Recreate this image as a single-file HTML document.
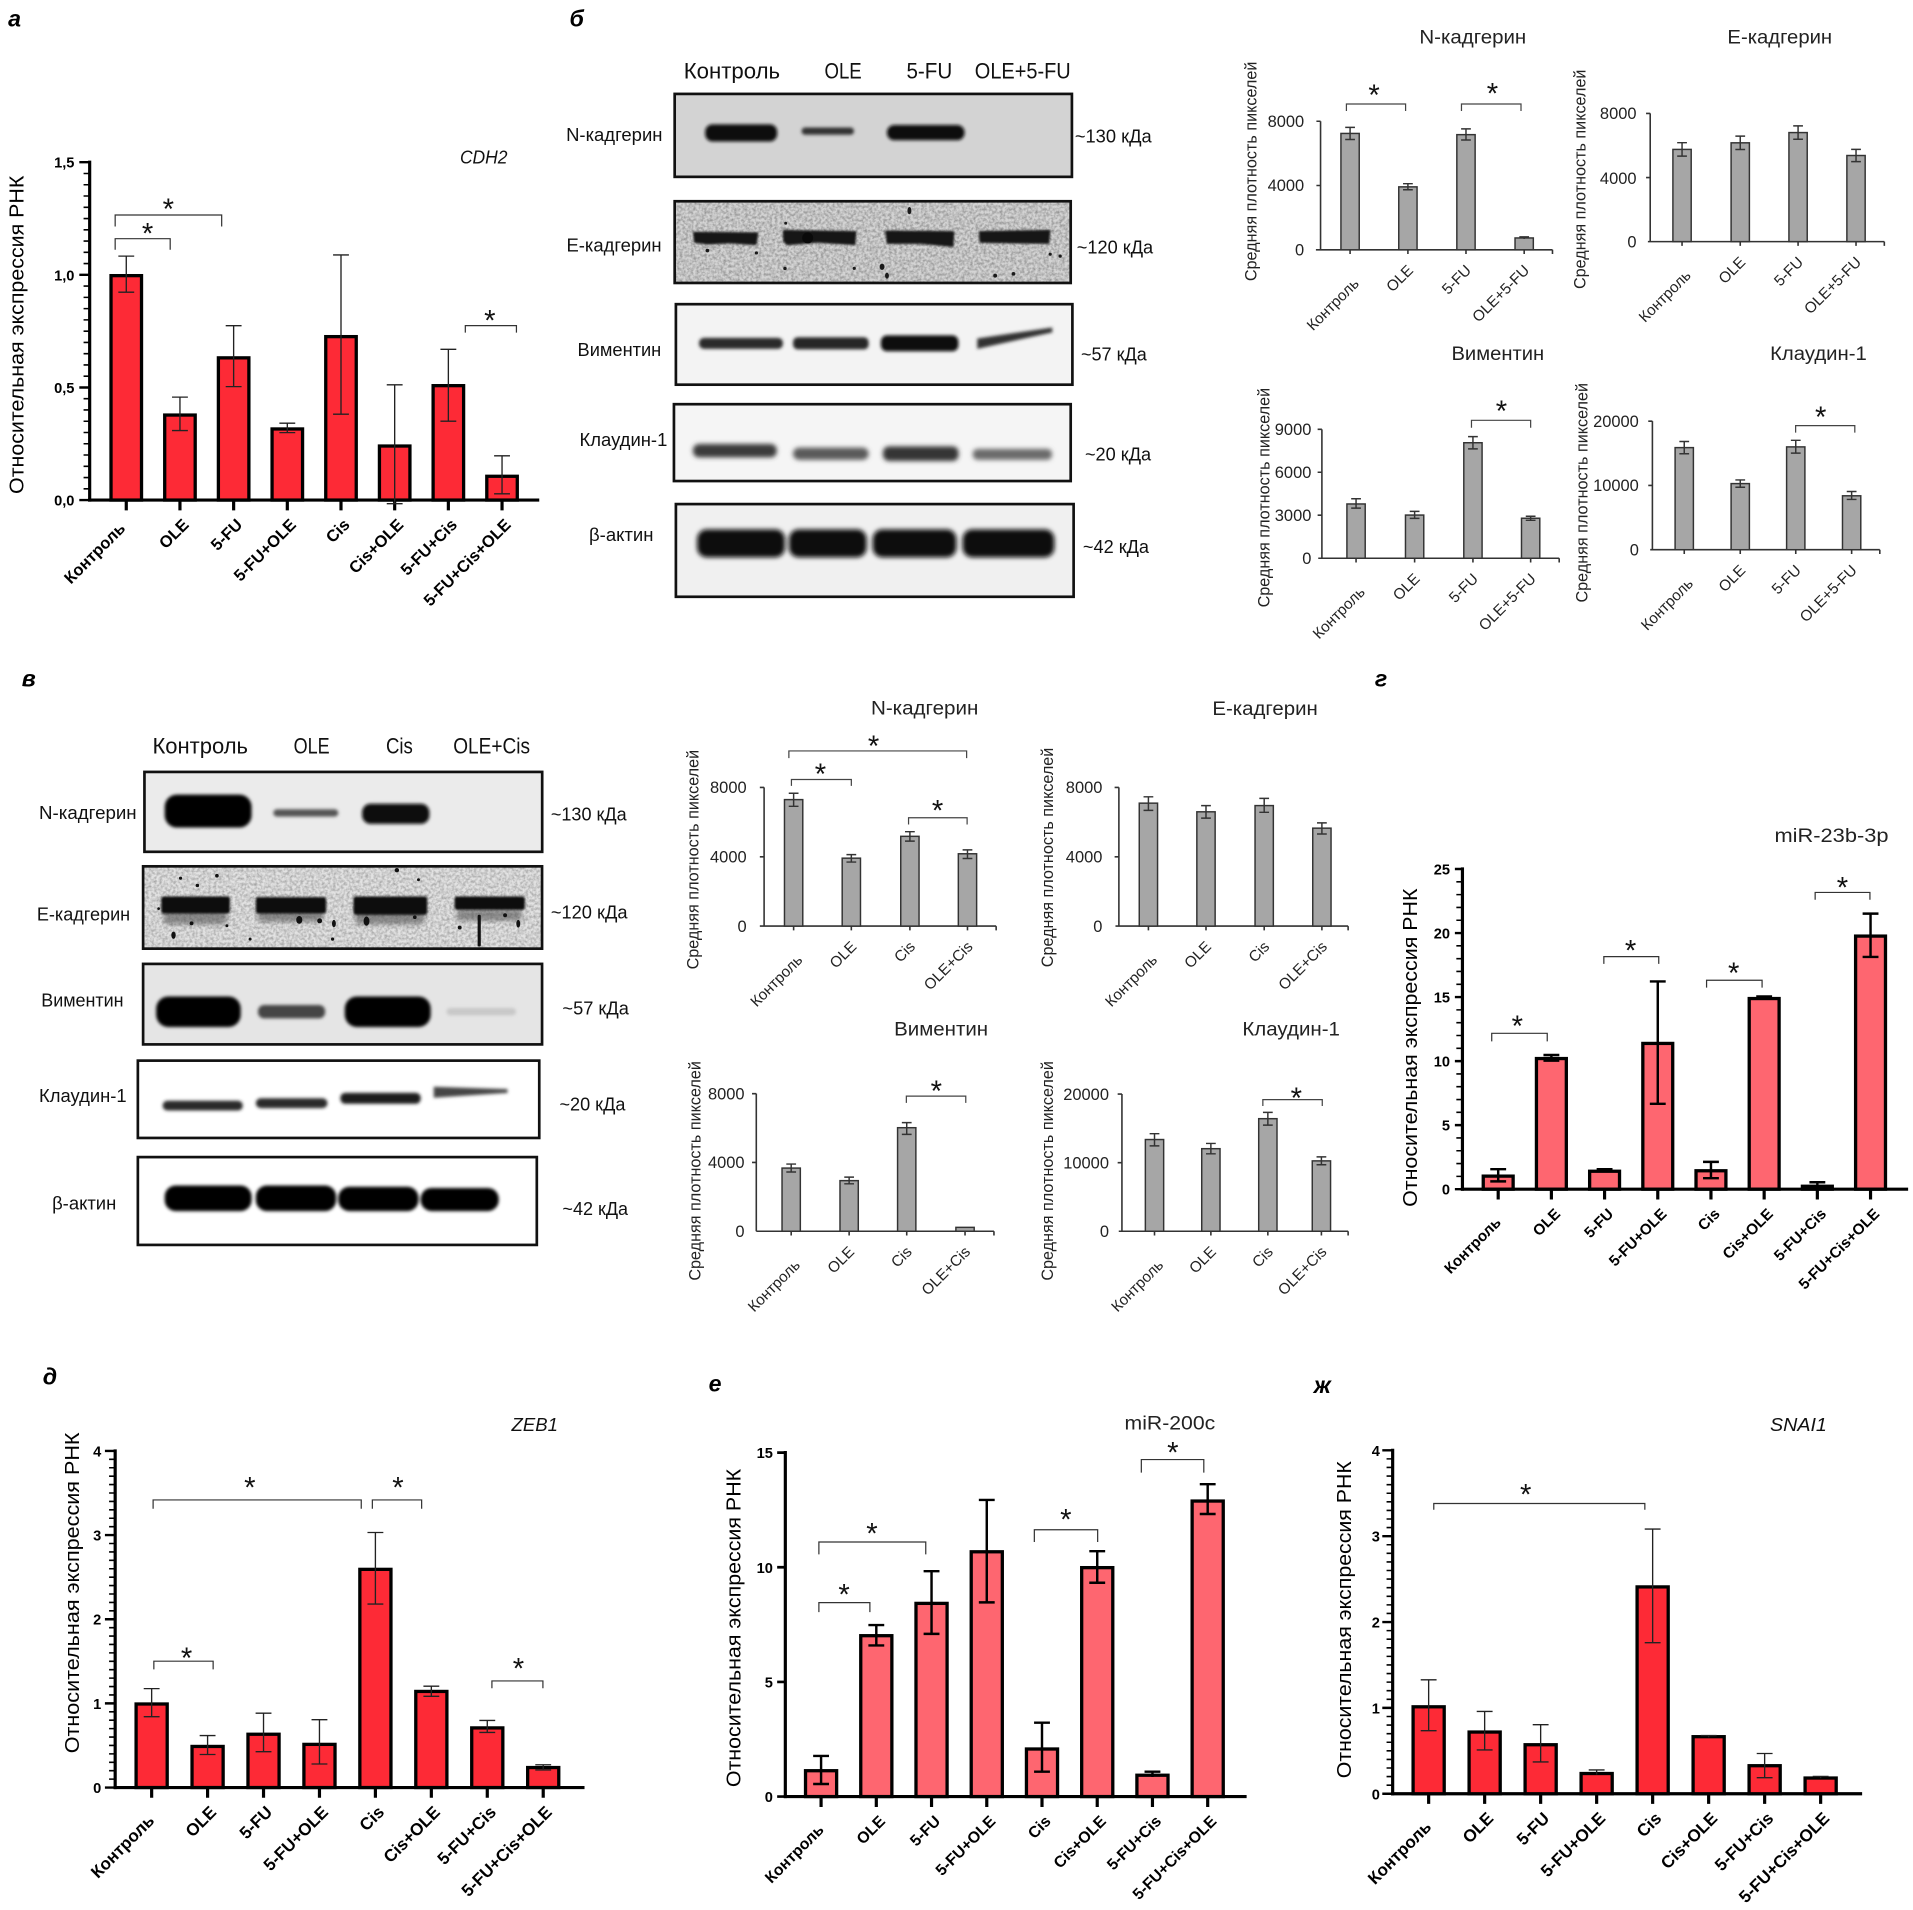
<!DOCTYPE html>
<html><head><meta charset="utf-8">
<style>
html,body{margin:0;padding:0;background:#fff;}
svg{display:block;}
text{font-family:"Liberation Sans",Arial,sans-serif;}
.gb{font-weight:bold;font-size:13.5px;text-anchor:end;fill:#000}
.ex{font-size:12.5px;text-anchor:end;fill:#222}
.yl{font-size:17px;text-anchor:middle;fill:#000}
.eyl{font-size:13.5px;text-anchor:middle;fill:#222}
.tk{font-weight:bold;font-size:12px;text-anchor:end;fill:#000}
.etk{font-size:13.5px;text-anchor:end;fill:#222}
.ttl{font-size:16px;text-anchor:middle;fill:#222}
.st{font-size:24px;text-anchor:middle;fill:#111}
.pl{font-weight:bold;font-style:italic;font-size:19px;fill:#000}
.bl{font-size:15.5px;fill:#111}
.hd{font-size:18px;fill:#111}
.gn{font-style:italic;font-size:15px;text-anchor:middle;fill:#111}
</style></head><body>
<svg width="1913" height="1910" viewBox="0 0 1568 1566" preserveAspectRatio="none" xmlns="http://www.w3.org/2000/svg">
<defs>
<filter id="bl1" x="-20%" y="-80%" width="140%" height="260%"><feGaussianBlur stdDeviation="1.3"/></filter>
<filter id="bl2" x="-20%" y="-80%" width="140%" height="260%"><feGaussianBlur stdDeviation="2"/></filter>
<filter id="bl07" x="-20%" y="-80%" width="140%" height="260%"><feGaussianBlur stdDeviation="0.8"/></filter>
<filter id="nz" x="0" y="0" width="1" height="1">
<feTurbulence type="fractalNoise" baseFrequency="0.45" numOctaves="2" seed="5"/>
<feColorMatrix type="matrix" values="0 0 0 0 0  0 0 0 0 0  0 0 0 0 0  1.8 0 0 0 -0.6"/>
</filter>
</defs>
<rect x="0" y="0" width="1568" height="1566" fill="#fff"/>

<!-- Panel letters -->
<text class="pl" x="6.7" y="21.7">а</text>
<text class="pl" x="466.8" y="21.7">б</text>
<text class="pl" x="17.8" y="563">в</text>
<text class="pl" x="1126.9" y="562.7">г</text>
<text class="pl" x="35" y="1135">д</text>
<text class="pl" x="580.8" y="1140.7">е</text>
<text class="pl" x="1076.8" y="1142">ж</text>

<!-- ================= Chart а ================= -->
<g>
<path d="M71 410.65V132" stroke="#000" stroke-width="5" stroke-dasharray="1.3 7.933"/>
<line x1="73.5" y1="131.7" x2="73.5" y2="411.3" stroke="#000" stroke-width="2.6"/>
<path d="M65 133H73.5M65 225.3H73.5M65 317.7H73.5M65 410H73.5" stroke="#000" stroke-width="2"/>
<line x1="72.2" y1="410" x2="442" y2="410" stroke="#000" stroke-width="2.6"/>
<path d="M103.5 410V418.5M147.5 410V418.5M191.5 410V418.5M235.5 410V418.5M279.5 410V418.5M323.5 410V418.5M367.5 410V418.5M411.5 410V418.5" stroke="#000" stroke-width="2.6"/>
<text class="tk" x="61" y="137.5">1,5</text>
<text class="tk" x="61" y="229.8">1,0</text>
<text class="tk" x="61" y="322.2">0,5</text>
<text class="tk" x="61" y="414.5">0,0</text>
<g fill="#fd2a36" stroke="#000" stroke-width="2.7">
<rect x="91" y="226" width="25" height="184"/>
<rect x="135" y="340.3" width="25" height="69.7"/>
<rect x="179" y="293.4" width="25" height="116.6"/>
<rect x="223" y="351.7" width="25" height="58.3"/>
<rect x="267" y="276" width="25" height="134"/>
<rect x="311" y="365.7" width="25" height="44.3"/>
<rect x="355" y="316.2" width="25" height="93.8"/>
<rect x="399" y="390.5" width="25" height="19.5"/>
</g>
<path fill="none" stroke="#222" stroke-width="1.1" d="M103.5 210V239.6M97 210H110M97 239.6H110M147.5 325.6V353M141 325.6H154M141 353H154M191.5 267V317M185 267H198M185 317H198M235.5 347V354.7M229 347H242M229 354.7H242M279.5 209V339.6M273 209H286M273 339.6H286M323.5 315.5V413M317 315.5H330M317 413H330M367.5 286.4V345.3M361 286.4H374M361 345.3H374M411.5 373.7V404.9M405 373.7H418M405 404.9H418"/>
<path fill="none" stroke="#333" stroke-width="1" d="M94.4 204.8V195.7H139.5V204.8M94.4 185.7V176.3H181.7V185.7M381.4 272.7V267H423.3V272.7"/>
<text class="st" x="121" y="199.7">*</text>
<text class="st" x="138" y="179.6">*</text>
<text class="st" x="401.5" y="271">*</text>
<text class="gn" x="396.5" y="134" textLength="39" lengthAdjust="spacingAndGlyphs">CDH2</text>
<text class="yl" transform="translate(19.4 274.5) rotate(-90)" textLength="261" lengthAdjust="spacingAndGlyphs">Относительная экспрессия РНК</text>
<g class="gb">
<text transform="translate(103.5 434) rotate(-45)">Контроль</text>
<text transform="translate(155.5 431) rotate(-45)">OLE</text>
<text transform="translate(199.5 431) rotate(-45)">5-FU</text>
<text transform="translate(243.5 431) rotate(-45)">5-FU+OLE</text>
<text transform="translate(287.5 431) rotate(-45)">Cis</text>
<text transform="translate(331.5 431) rotate(-45)">Cis+OLE</text>
<text transform="translate(375.5 431) rotate(-45)">5-FU+Cis</text>
<text transform="translate(419.5 431) rotate(-45)">5-FU+Cis+OLE</text>
</g>
</g>

<!-- ================= Blot б ================= -->
<g>
<text class="hd" x="560.4" y="64.4" textLength="79" lengthAdjust="spacingAndGlyphs">Контроль</text>
<text class="hd" x="675.8" y="64.4" textLength="30.5" lengthAdjust="spacingAndGlyphs">OLE</text>
<text class="hd" x="743" y="64.4" textLength="37.5" lengthAdjust="spacingAndGlyphs">5-FU</text>
<text class="hd" x="799" y="64.4" textLength="78.6" lengthAdjust="spacingAndGlyphs">OLE+5-FU</text>

<rect x="553" y="77" width="325.6" height="68" fill="#d3d3d3"/>
<g filter="url(#bl1)">
<rect x="578" y="102" width="59" height="14" rx="6" fill="#111"/>
<rect x="657" y="104.5" width="43" height="6" rx="3" fill="#333"/>
<rect x="727" y="102.5" width="63.6" height="12.5" rx="6" fill="#111"/>
</g>
<rect x="553" y="77" width="325.6" height="68" fill="none" stroke="#111" stroke-width="2.2"/>

<rect x="553" y="165" width="324.6" height="67" fill="#d4d4d4"/>
<rect x="553" y="165" width="324.6" height="67" filter="url(#nz)" opacity="0.32"/>
<g filter="url(#bl07)" fill="#151515">
<path d="M568 190L621.6 190.5L620 201L598 199.5L580 200.5L569 199Z"/>
<path d="M641.7 188.5L702 189.5L701 201L670 199L645 201L642 198Z"/>
<path d="M725.5 189L782.2 189.5L781.5 202.5L755 200L727 200Z"/>
<path d="M802.3 189.5L860.9 188.5L860 200L830 199.5L803 199Z"/>
</g>
<circle cx="662" cy="195" r="4.5" fill="#0a0a0a"/>
<g fill="#1a1a1a">
<ellipse cx="745.4" cy="172.7" rx="1.6" ry="3"/><circle cx="643.4" cy="220.1" r="1.4"/><circle cx="700.2" cy="220" r="1.3"/>
<ellipse cx="723" cy="218.7" rx="2" ry="2.6"/><ellipse cx="727" cy="226" rx="1.6" ry="2.5"/><circle cx="815.7" cy="226" r="1.6"/>
<circle cx="830.7" cy="224.5" r="1.5"/><circle cx="860.8" cy="208.4" r="1.3"/><circle cx="869" cy="210" r="1.3"/>
<circle cx="579.8" cy="205.4" r="1.5"/><circle cx="620" cy="207.4" r="1.3"/><circle cx="644" cy="183" r="1.2"/>
</g>
<rect x="553" y="165" width="324.6" height="67" fill="none" stroke="#111" stroke-width="2.2"/>

<rect x="554" y="249.4" width="325" height="66" fill="#f3f3f3"/>
<g filter="url(#bl1)">
<rect x="573" y="277" width="68.7" height="9" rx="4" fill="#2a2a2a"/>
<rect x="650" y="276.5" width="62" height="10" rx="4" fill="#262626"/>
<rect x="722" y="275" width="63.6" height="13" rx="5" fill="#0d0d0d"/>
<path d="M801 277.5L862.5 268.5L862.5 272.5L801 286Z" fill="#333"/>
</g>
<rect x="554" y="249.4" width="325" height="66" fill="none" stroke="#111" stroke-width="2.2"/>

<rect x="552.4" y="331.4" width="325.2" height="63" fill="#f5f5f5"/>
<g filter="url(#bl2)">
<rect x="568" y="364" width="68.7" height="11" rx="5" fill="#3a3a3a"/>
<rect x="650" y="367" width="62" height="10" rx="5" fill="#5a5a5a"/>
<rect x="723.7" y="366" width="62" height="12" rx="5" fill="#353535"/>
<rect x="797.3" y="368" width="65" height="9" rx="4" fill="#6a6a6a"/>
</g>
<rect x="552.4" y="331.4" width="325.2" height="63" fill="none" stroke="#111" stroke-width="2.2"/>

<rect x="554" y="413.3" width="326" height="76" fill="#f0f0f0"/>
<g filter="url(#bl2)" fill="#080808">
<rect x="571.4" y="434" width="72" height="23" rx="8"/>
<rect x="646.7" y="434" width="63.6" height="23" rx="8"/>
<rect x="715.3" y="434" width="68.6" height="23" rx="8"/>
<rect x="789" y="434" width="75.2" height="23" rx="8"/>
</g>
<rect x="554" y="413.3" width="326" height="76" fill="none" stroke="#111" stroke-width="2.2"/>

<text class="bl" x="464" y="115.6" textLength="79" lengthAdjust="spacingAndGlyphs">N-кадгерин</text>
<text class="bl" x="464.3" y="206.2" textLength="78" lengthAdjust="spacingAndGlyphs">Е-кадгерин</text>
<text class="bl" x="473.4" y="292" textLength="68.6" lengthAdjust="spacingAndGlyphs">Виментин</text>
<text class="bl" x="475" y="365.8" textLength="72" lengthAdjust="spacingAndGlyphs">Клаудин-1</text>
<text class="bl" x="482.8" y="443.4" textLength="52.8" lengthAdjust="spacingAndGlyphs">β-актин</text>
<text class="bl" x="881" y="117" textLength="63" lengthAdjust="spacingAndGlyphs">~130 кДа</text>
<text class="bl" x="882.6" y="207.8" textLength="62.6" lengthAdjust="spacingAndGlyphs">~120 кДа</text>
<text class="bl" x="886" y="295.6" textLength="54" lengthAdjust="spacingAndGlyphs">~57 кДа</text>
<text class="bl" x="889.3" y="377.5" textLength="54.2" lengthAdjust="spacingAndGlyphs">~20 кДа</text>
<text class="bl" x="887.6" y="453.6" textLength="54.2" lengthAdjust="spacingAndGlyphs">~42 кДа</text>
</g>

<!-- ================= Excel charts б ================= -->
<!-- б N -->
<g>
<path fill="none" stroke="#333" stroke-width="1.3" d="M1082.4 99.4V204.8M1078.6 204.8H1272.5M1079 99.4H1082.4M1079 152.1H1082.4M1106.6 204.8V208.3M1154 204.8V208.3M1201.6 204.8V208.3M1249.3 204.8V208.3M1272.5 204.8V208.3"/>
<text class="etk" x="1069" y="104.1">8000</text>
<text class="etk" x="1069" y="156.8">4000</text>
<text class="etk" x="1069" y="209.5">0</text>
<g fill="#a6a6a6" stroke="#333" stroke-width="1.2">
<rect x="1099.1" y="109.4" width="15" height="95.4"/>
<rect x="1146.5" y="153.2" width="15" height="51.6"/>
<rect x="1194.1" y="110.4" width="15" height="94.4"/>
<rect x="1241.8" y="195.1" width="15" height="9.7"/>
</g>
<path fill="none" stroke="#333" stroke-width="1.2" d="M1106.6 104.4V114.4M1102.6 104.4H1110.6M1102.6 114.4H1110.6M1154 150.6V155.6M1150 150.6H1158M1150 155.6H1158M1201.6 105.7V114.8M1197.6 105.7H1205.6M1197.6 114.8H1205.6M1249.3 194.2V196M1245.3 194.2H1253.3"/>
<path fill="none" stroke="#444" stroke-width="1" d="M1103.6 91V85.3H1152.1V91M1197.9 91V85.3H1246.7V91"/>
<text class="st" x="1126.3" y="85.9">*</text>
<text class="st" x="1223.3" y="84.9">*</text>
<text class="ttl" x="1207.2" y="35.8" textLength="87.6" lengthAdjust="spacingAndGlyphs">N-кадгерин</text>
<text class="eyl" transform="translate(1030 140.5) rotate(-90)" textLength="180" lengthAdjust="spacingAndGlyphs">Средняя плотность пикселей</text>
<g class="ex">
<text transform="translate(1114.6 233.3) rotate(-45)">Контроль</text>
<text transform="translate(1159 222.4) rotate(-45)">OLE</text>
<text transform="translate(1206.6 222.4) rotate(-45)">5-FU</text>
<text transform="translate(1254.3 222.4) rotate(-45)">OLE+5-FU</text>
</g>
</g>

<!-- б E -->
<g>
<path fill="none" stroke="#333" stroke-width="1.3" d="M1352.6 93V198.1M1350.7 198.1H1544.5M1349.2 93H1352.6M1349.2 145.6H1352.6M1378.7 198.1V201.6M1426.4 198.1V201.6M1473.8 198.1V201.6M1521.3 198.1V201.6M1544.5 198.1V201.6"/>
<text class="etk" x="1341.4" y="97.7">8000</text>
<text class="etk" x="1341.4" y="150.9">4000</text>
<text class="etk" x="1341.4" y="202.8">0</text>
<g fill="#a6a6a6" stroke="#333" stroke-width="1.2">
<rect x="1371.2" y="122.5" width="15" height="75.6"/>
<rect x="1418.9" y="117.1" width="15" height="81"/>
<rect x="1466.3" y="108.7" width="15" height="89.4"/>
<rect x="1513.8" y="127.5" width="15" height="70.6"/>
</g>
<path fill="none" stroke="#333" stroke-width="1.2" d="M1378.7 117V128M1374.7 117H1382.7M1374.7 128H1382.7M1426.4 111.6V122.6M1422.4 111.6H1430.4M1422.4 122.6H1430.4M1473.8 103.2V114.2M1469.8 103.2H1477.8M1469.8 114.2H1477.8M1521.3 122.5V132.5M1517.3 122.5H1525.3M1517.3 132.5H1525.3"/>
<text class="ttl" x="1458.8" y="35.8" textLength="85.8" lengthAdjust="spacingAndGlyphs">Е-кадгерин</text>
<text class="eyl" transform="translate(1299.5 147) rotate(-90)" textLength="180" lengthAdjust="spacingAndGlyphs">Средняя плотность пикселей</text>
<g class="ex">
<text transform="translate(1386.7 226.6) rotate(-45)">Контроль</text>
<text transform="translate(1431.4 215.7) rotate(-45)">OLE</text>
<text transform="translate(1478.8 215.7) rotate(-45)">5-FU</text>
<text transform="translate(1526.3 215.7) rotate(-45)">OLE+5-FU</text>
</g>
</g>

<!-- б Вим -->
<g>
<path fill="none" stroke="#333" stroke-width="1.3" d="M1083.5 352V457.7M1080.5 457.7H1278M1080 352H1083.5M1080 387.2H1083.5M1080 422.4H1083.5M1111.5 457.7V461.2M1159.5 457.7V461.2M1207.3 457.7V461.2M1254.6 457.7V461.2M1278 457.7V461.2"/>
<text class="etk" x="1074.9" y="356.7">9000</text>
<text class="etk" x="1074.9" y="391.9">6000</text>
<text class="etk" x="1074.9" y="427.1">3000</text>
<text class="etk" x="1074.9" y="462.4">0</text>
<g fill="#a6a6a6" stroke="#333" stroke-width="1.2">
<rect x="1104" y="413.2" width="15" height="44.5"/>
<rect x="1152" y="422.3" width="15" height="35.4"/>
<rect x="1199.8" y="363" width="15" height="94.7"/>
<rect x="1247.1" y="424.9" width="15" height="32.8"/>
</g>
<path fill="none" stroke="#333" stroke-width="1.2" d="M1111.5 408.9V416.6M1107.5 408.9H1115.5M1107.5 416.6H1115.5M1159.5 419.3V425M1155.5 419.3H1163.5M1155.5 425H1163.5M1207.3 358V368M1203.3 358H1211.3M1203.3 368H1211.3M1254.6 423.3V426.6M1250.6 423.3H1258.6M1250.6 426.6H1258.6"/>
<path fill="none" stroke="#444" stroke-width="1" d="M1206.1 350.7V344.6H1254.6V350.7"/>
<text class="st" x="1230.7" y="345.3">*</text>
<text class="ttl" x="1227.7" y="295" textLength="76" lengthAdjust="spacingAndGlyphs">Виментин</text>
<text class="eyl" transform="translate(1040.5 408) rotate(-90)" textLength="180" lengthAdjust="spacingAndGlyphs">Средняя плотность пикселей</text>
<g class="ex">
<text transform="translate(1119.5 486.2) rotate(-45)">Контроль</text>
<text transform="translate(1164.5 475.3) rotate(-45)">OLE</text>
<text transform="translate(1212.3 475.3) rotate(-45)">5-FU</text>
<text transform="translate(1259.6 475.3) rotate(-45)">OLE+5-FU</text>
</g>
</g>

<!-- б Кл -->
<g>
<path fill="none" stroke="#333" stroke-width="1.3" d="M1354.4 345.3V450.7M1352.6 450.7H1540.8M1351 345.3H1354.4M1351 398H1354.4M1380.5 450.7V454.2M1426.4 450.7V454.2M1471.9 450.7V454.2M1517.7 450.7V454.2M1540.8 450.7V454.2"/>
<text class="etk" x="1343.3" y="350">20000</text>
<text class="etk" x="1343.3" y="402.7">10000</text>
<text class="etk" x="1343.3" y="455.4">0</text>
<g fill="#a6a6a6" stroke="#333" stroke-width="1.2">
<rect x="1373" y="367" width="15" height="83.7"/>
<rect x="1418.9" y="396.5" width="15" height="54.2"/>
<rect x="1464.4" y="366.4" width="15" height="84.3"/>
<rect x="1510.2" y="406.5" width="15" height="44.2"/>
</g>
<path fill="none" stroke="#333" stroke-width="1.2" d="M1380.5 362V372M1376.5 362H1384.5M1376.5 372H1384.5M1426.4 393.5V399.5M1422.4 393.5H1430.4M1422.4 399.5H1430.4M1471.9 361V371.5M1467.9 361H1475.9M1467.9 371.5H1475.9M1517.7 403V409.5M1513.7 403H1521.7M1513.7 409.5H1521.7"/>
<path fill="none" stroke="#444" stroke-width="1" d="M1471.8 354.7V349H1520.3V354.7"/>
<text class="st" x="1492.3" y="350.3">*</text>
<text class="ttl" x="1490.5" y="295" textLength="79.3" lengthAdjust="spacingAndGlyphs">Клаудин-1</text>
<text class="eyl" transform="translate(1301.4 404) rotate(-90)" textLength="180" lengthAdjust="spacingAndGlyphs">Средняя плотность пикселей</text>
<g class="ex">
<text transform="translate(1388.5 479.2) rotate(-45)">Контроль</text>
<text transform="translate(1431.4 468.3) rotate(-45)">OLE</text>
<text transform="translate(1476.9 468.3) rotate(-45)">5-FU</text>
<text transform="translate(1522.7 468.3) rotate(-45)">OLE+5-FU</text>
</g>
</g>

<!-- ================= Blot в ================= -->
<g>
<text class="hd" x="125" y="617.8" textLength="78.3" lengthAdjust="spacingAndGlyphs">Контроль</text>
<text class="hd" x="240.7" y="617.8" textLength="29.5" lengthAdjust="spacingAndGlyphs">OLE</text>
<text class="hd" x="316.4" y="617.8" textLength="22" lengthAdjust="spacingAndGlyphs">Cis</text>
<text class="hd" x="371.5" y="617.8" textLength="62.9" lengthAdjust="spacingAndGlyphs">OLE+Cis</text>

<rect x="118.4" y="632.9" width="326" height="65.5" fill="#ebebeb"/>
<g filter="url(#bl1)">
<rect x="135" y="651.5" width="71.2" height="27" rx="10" fill="#050505"/>
<rect x="224" y="663.5" width="53.3" height="6" rx="3" fill="#555"/>
<rect x="296.8" y="659" width="55.2" height="16.5" rx="7" fill="#0a0a0a"/>
</g>
<rect x="118.4" y="632.9" width="326" height="65.5" fill="none" stroke="#111" stroke-width="2.2"/>

<rect x="117.3" y="710.3" width="327" height="67.5" fill="#e2e2e2"/>
<rect x="117.3" y="710.3" width="327" height="67.5" filter="url(#nz)" opacity="0.28"/>
<g filter="url(#bl2)" fill="#555" opacity="0.6">
<rect x="134" y="746" width="52" height="12" rx="4"/>
<rect x="211" y="746" width="54" height="10" rx="4"/>
<rect x="291" y="746" width="57" height="12" rx="4"/>
<rect x="374" y="746" width="54" height="9" rx="4"/>
</g>
<g filter="url(#bl07)" fill="#0d0d0d">
<rect x="132.2" y="735" width="56.2" height="14" rx="2"/>
<rect x="209.7" y="735.5" width="57.6" height="13.5" rx="2"/>
<rect x="289.7" y="735" width="60.5" height="15" rx="2"/>
<rect x="372.6" y="735" width="57.6" height="11" rx="2"/>
</g>
<g fill="#111">
<ellipse cx="142.2" cy="766.8" rx="1.8" ry="3"/><circle cx="161.8" cy="726" r="1.4"/><circle cx="177.8" cy="718" r="1.5"/>
<ellipse cx="245.3" cy="754.2" rx="2.5" ry="3.2"/><ellipse cx="273.7" cy="757.2" rx="1.6" ry="3"/><ellipse cx="300.4" cy="755.2" rx="2.4" ry="3.8"/>
<circle cx="325.3" cy="713.5" r="1.8"/><circle cx="343" cy="721.3" r="1.2"/><rect x="391.5" y="750" width="2.6" height="26" rx="1"/>
<ellipse cx="424.8" cy="757.4" rx="1.6" ry="3.2"/><circle cx="376.8" cy="760.5" r="1.6"/><circle cx="414" cy="750.4" r="1.6"/>
<circle cx="157" cy="757" r="1.6"/><circle cx="186" cy="759" r="1.2"/><circle cx="340" cy="752" r="1.5"/>
<circle cx="148" cy="720" r="1.3"/><circle cx="205" cy="770" r="1.2"/><circle cx="272.6" cy="770" r="1.3"/>
<circle cx="262" cy="755" r="2"/><circle cx="130" cy="745" r="1.1"/>
</g>
<rect x="117.3" y="710.3" width="327" height="67.5" fill="none" stroke="#111" stroke-width="2.2"/>

<rect x="117.3" y="790.3" width="327" height="66" fill="#e5e5e5"/>
<g filter="url(#bl1)">
<rect x="128" y="817" width="69.3" height="25" rx="10" fill="#050505"/>
<rect x="211.5" y="824" width="55" height="11" rx="5" fill="#444"/>
<rect x="282.6" y="817" width="70.4" height="25" rx="10" fill="#050505"/>
<rect x="366" y="826.5" width="57" height="6" rx="3" fill="#c8c8c8"/>
</g>
<rect x="117.3" y="790.3" width="327" height="66" fill="none" stroke="#111" stroke-width="2.2"/>

<rect x="113" y="869.6" width="329" height="63.4" fill="#fff"/>
<g filter="url(#bl1)">
<rect x="133.3" y="902.5" width="65.7" height="8" rx="4" fill="#2a2a2a"/>
<rect x="209.7" y="900.5" width="58.7" height="8" rx="4" fill="#2a2a2a"/>
<rect x="279" y="896" width="65.8" height="9" rx="4" fill="#1e1e1e"/>
<path d="M355.5 891L416 893L416 896L355.5 900Z" fill="#444"/>
</g>
<rect x="113" y="869.6" width="329" height="63.4" fill="none" stroke="#111" stroke-width="2.2"/>

<rect x="113" y="948.7" width="327" height="72" fill="#fff"/>
<g filter="url(#bl1)" fill="#050505">
<rect x="135" y="972" width="71.2" height="21" rx="9"/>
<rect x="209.7" y="972" width="65.8" height="21" rx="9"/>
<rect x="277.3" y="973" width="65.7" height="20" rx="9"/>
<rect x="344.8" y="974" width="64" height="19" rx="9"/>
</g>
<rect x="113" y="948.7" width="327" height="72" fill="none" stroke="#111" stroke-width="2.2"/>

<text class="bl" x="32" y="671.6" textLength="80" lengthAdjust="spacingAndGlyphs">N-кадгерин</text>
<text class="bl" x="30.2" y="754.7" textLength="76.5" lengthAdjust="spacingAndGlyphs">Е-кадгерин</text>
<text class="bl" x="33.8" y="825.2" textLength="67.5" lengthAdjust="spacingAndGlyphs">Виментин</text>
<text class="bl" x="32" y="903.7" textLength="71.8" lengthAdjust="spacingAndGlyphs">Клаудин-1</text>
<text class="bl" x="42.7" y="991.5" textLength="52.6" lengthAdjust="spacingAndGlyphs">β-актин</text>
<text class="bl" x="451.5" y="672.6" textLength="62.2" lengthAdjust="spacingAndGlyphs">~130 кДа</text>
<text class="bl" x="451.5" y="753.2" textLength="62.9" lengthAdjust="spacingAndGlyphs">~120 кДа</text>
<text class="bl" x="461" y="831.6" textLength="54.5" lengthAdjust="spacingAndGlyphs">~57 кДа</text>
<text class="bl" x="458.6" y="910.6" textLength="54" lengthAdjust="spacingAndGlyphs">~20 кДа</text>
<text class="bl" x="461" y="996.2" textLength="53.8" lengthAdjust="spacingAndGlyphs">~42 кДа</text>
</g>

<!-- ================= Excel charts в ================= -->
<!-- в N -->
<g>
<path fill="none" stroke="#333" stroke-width="1.3" d="M626.3 645.6V759.3M622.8 759.3H816.5M622.8 645.6H626.3M622.8 702.5H626.3M650.5 759.3V762.8M697.8 759.3V762.8M745.8 759.3V762.8M793 759.3V762.8M816.5 759.3V762.8"/>
<text class="etk" x="612" y="650.3">8000</text>
<text class="etk" x="612" y="707.2">4000</text>
<text class="etk" x="612" y="764">0</text>
<g fill="#a6a6a6" stroke="#333" stroke-width="1.2">
<rect x="643" y="655.6" width="15" height="103.7"/>
<rect x="690.3" y="703.6" width="15" height="55.7"/>
<rect x="738.3" y="685.7" width="15" height="73.6"/>
<rect x="785.5" y="700" width="15" height="59.3"/>
</g>
<path fill="none" stroke="#333" stroke-width="1.2" d="M650.5 650.4V661.1M646.5 650.4H654.5M646.5 661.1H654.5M697.8 700.7V706.8M693.8 700.7H701.8M693.8 706.8H701.8M745.8 681.9V689.6M741.8 681.9H749.8M741.8 689.6H749.8M793 696.8V703.9M789 696.8H797M789 703.9H797"/>
<path fill="none" stroke="#444" stroke-width="1" d="M648.7 644.3V639.1H697.8V644.3M646.6 621.6V615.7H792.3V621.6M744.7 676V670.5H792.7V676"/>
<text class="st" x="672.5" y="642.7">*</text>
<text class="st" x="716" y="620">*</text>
<text class="st" x="768.5" y="672.8">*</text>
<text class="ttl" x="757.9" y="585.7" textLength="88" lengthAdjust="spacingAndGlyphs">N-кадгерин</text>
<text class="eyl" transform="translate(572.4 704.8) rotate(-90)" textLength="180" lengthAdjust="spacingAndGlyphs">Средняя плотность пикселей</text>
<g class="ex">
<text transform="translate(658.5 787.8) rotate(-45)">Контроль</text>
<text transform="translate(702.8 776.9) rotate(-45)">OLE</text>
<text transform="translate(750.8 776.9) rotate(-45)">Cis</text>
<text transform="translate(798 776.9) rotate(-45)">OLE+Cis</text>
</g>
</g>

<!-- в E -->
<g>
<path fill="none" stroke="#333" stroke-width="1.3" d="M917.1 645.6V759.3M914.3 759.3H1105M913.6 645.6H917.1M913.6 702.5H917.1M941.3 759.3V762.8M988.5 759.3V762.8M1036.2 759.3V762.8M1083.5 759.3V762.8M1105 759.3V762.8"/>
<text class="etk" x="903.6" y="650.3">8000</text>
<text class="etk" x="903.6" y="707.2">4000</text>
<text class="etk" x="903.6" y="764">0</text>
<g fill="#a6a6a6" stroke="#333" stroke-width="1.2">
<rect x="933.8" y="658.5" width="15" height="100.8"/>
<rect x="981" y="665.6" width="15" height="93.7"/>
<rect x="1028.7" y="660.5" width="15" height="98.8"/>
<rect x="1076" y="679" width="15" height="80.3"/>
</g>
<path fill="none" stroke="#333" stroke-width="1.2" d="M941.3 653.3V664.4M937.3 653.3H945.3M937.3 664.4H945.3M988.5 660.5V670.8M984.5 660.5H992.5M984.5 670.8H992.5M1036.2 654.6V666M1032.2 654.6H1040.2M1032.2 666H1040.2M1083.5 674.7V683.8M1079.5 674.7H1087.5M1079.5 683.8H1087.5"/>
<text class="ttl" x="1036.9" y="586.4" textLength="86.4" lengthAdjust="spacingAndGlyphs">Е-кадгерин</text>
<text class="eyl" transform="translate(863.2 703) rotate(-90)" textLength="180" lengthAdjust="spacingAndGlyphs">Средняя плотность пикселей</text>
<g class="ex">
<text transform="translate(949.3 787.8) rotate(-45)">Контроль</text>
<text transform="translate(993.5 776.9) rotate(-45)">OLE</text>
<text transform="translate(1041.2 776.9) rotate(-45)">Cis</text>
<text transform="translate(1088.5 776.9) rotate(-45)">OLE+Cis</text>
</g>
</g>

<!-- в Вим -->
<g>
<path fill="none" stroke="#333" stroke-width="1.3" d="M619.9 896.7V1009.5M619.9 1009.5H814.7M616.4 896.7H619.9M616.4 953.1H619.9M648.5 1009.5V1013M696 1009.5V1013M743.2 1009.5V1013M791 1009.5V1013M814.7 1009.5V1013"/>
<text class="etk" x="610.3" y="901.4">8000</text>
<text class="etk" x="610.3" y="957.8">4000</text>
<text class="etk" x="610.3" y="1014.2">0</text>
<g fill="#a6a6a6" stroke="#333" stroke-width="1.2">
<rect x="641" y="957.7" width="15" height="51.8"/>
<rect x="688.5" y="968" width="15" height="41.5"/>
<rect x="735.7" y="924.6" width="15" height="84.9"/>
<rect x="783.5" y="1006.3" width="15" height="3.2"/>
</g>
<path fill="none" stroke="#333" stroke-width="1.2" d="M648.5 954.4V960.9M644.5 954.4H652.5M644.5 960.9H652.5M696 965.1V970.6M692 965.1H700M692 970.6H700M743.2 920.4V930.1M739.2 920.4H747.2M739.2 930.1H747.2"/>
<path fill="none" stroke="#444" stroke-width="1" d="M742.9 904.2V898.7H791.6V904.2"/>
<text class="st" x="767.5" y="902.6">*</text>
<text class="ttl" x="771.4" y="849.2" textLength="77" lengthAdjust="spacingAndGlyphs">Виментин</text>
<text class="eyl" transform="translate(574 960) rotate(-90)" textLength="180" lengthAdjust="spacingAndGlyphs">Средняя плотность пикселей</text>
<g class="ex">
<text transform="translate(656.5 1038) rotate(-45)">Контроль</text>
<text transform="translate(701 1027.1) rotate(-45)">OLE</text>
<text transform="translate(748.2 1027.1) rotate(-45)">Cis</text>
<text transform="translate(796 1027.1) rotate(-45)">OLE+Cis</text>
</g>
</g>

<!-- в Кл -->
<g>
<path fill="none" stroke="#333" stroke-width="1.3" d="M919.6 897V1009.5M917 1009.5H1105M916.1 897H919.6M916.1 953.3H919.6M946.3 1009.5V1013M992.5 1009.5V1013M1039.2 1009.5V1013M1083.1 1009.5V1013M1105 1009.5V1013"/>
<text class="etk" x="909" y="901.7">20000</text>
<text class="etk" x="909" y="958">10000</text>
<text class="etk" x="909" y="1014.2">0</text>
<g fill="#a6a6a6" stroke="#333" stroke-width="1.2">
<rect x="938.8" y="934.3" width="15" height="75.2"/>
<rect x="985" y="941.8" width="15" height="67.7"/>
<rect x="1031.7" y="917.2" width="15" height="92.3"/>
<rect x="1075.6" y="951.8" width="15" height="57.7"/>
</g>
<path fill="none" stroke="#333" stroke-width="1.2" d="M946.3 929.5V939.5M942.3 929.5H950.3M942.3 939.5H950.3M992.5 937.5V946M988.5 937.5H996.5M988.5 946H996.5M1039.2 912V922.5M1035.2 912H1043.2M1035.2 922.5H1043.2M1083.1 948.5V955M1079.1 948.5H1087.1M1079.1 955H1087.1"/>
<path fill="none" stroke="#444" stroke-width="1" d="M1035.1 906.8V901.6H1083.8V906.8"/>
<text class="st" x="1062.5" y="908.5">*</text>
<text class="ttl" x="1058.3" y="849.2" textLength="80" lengthAdjust="spacingAndGlyphs">Клаудин-1</text>
<text class="eyl" transform="translate(863.2 960) rotate(-90)" textLength="180" lengthAdjust="spacingAndGlyphs">Средняя плотность пикселей</text>
<g class="ex">
<text transform="translate(954.3 1038) rotate(-45)">Контроль</text>
<text transform="translate(997.5 1027.1) rotate(-45)">OLE</text>
<text transform="translate(1044.2 1027.1) rotate(-45)">Cis</text>
<text transform="translate(1088.1 1027.1) rotate(-45)">OLE+Cis</text>
</g>
</g>

<!-- ================= Chart г ================= -->
<g>
<path d="M1196.2 975.65V711" stroke="#000" stroke-width="5" stroke-dasharray="1.3 9.2"/>
<line x1="1198.7" y1="711.2" x2="1198.7" y2="976.3" stroke="#000" stroke-width="2.6"/>
<path d="M1192.5 712.5H1198.7M1192.5 765H1198.7M1192.5 817.5H1198.7M1192.5 870H1198.7M1192.5 922.5H1198.7M1192.5 975H1198.7" stroke="#000" stroke-width="2"/>
<line x1="1197.4" y1="975" x2="1564" y2="975" stroke="#000" stroke-width="2.6"/>
<path d="M1228 975V983.5M1271.6 975V983.5M1315.2 975V983.5M1358.8 975V983.5M1402.4 975V983.5M1446 975V983.5M1489.6 975V983.5M1533.2 975V983.5" stroke="#000" stroke-width="2.6"/>
<text class="tk" x="1188.5" y="717">25</text>
<text class="tk" x="1188.5" y="769.5">20</text>
<text class="tk" x="1188.5" y="822">15</text>
<text class="tk" x="1188.5" y="874.5">10</text>
<text class="tk" x="1188.5" y="927">5</text>
<text class="tk" x="1188.5" y="979.5">0</text>
<g fill="#fe6670" stroke="#000" stroke-width="2.7">
<rect x="1215.75" y="964.3" width="24.5" height="10.7"/>
<rect x="1259.35" y="867.9" width="24.5" height="107.1"/>
<rect x="1302.95" y="960.3" width="24.5" height="14.7"/>
<rect x="1346.55" y="855.5" width="24.5" height="119.5"/>
<rect x="1390.15" y="959.9" width="24.5" height="15.1"/>
<rect x="1433.75" y="818.7" width="24.5" height="156.3"/>
<rect x="1477.35" y="972.6" width="24.5" height="2.4"/>
<rect x="1520.95" y="767.5" width="24.5" height="207.5"/>
</g>
<path fill="none" stroke="#000" stroke-width="2" d="M1228 958.6V968.6M1221.5 958.6H1234.5M1221.5 968.6H1234.5M1271.6 865V869.6M1265.1 865H1278.1M1265.1 869.6H1278.1M1315.2 958.6V961.3M1308.7 958.6H1321.7M1358.8 804.7V905M1352.3 804.7H1365.3M1352.3 905H1365.3M1402.4 952.6V966M1395.9 952.6H1408.9M1395.9 966H1408.9M1446 817V819.4M1439.5 817H1452.5M1489.6 969.3V974.3M1483.1 969.3H1496.1M1533.2 749.1V784.6M1526.7 749.1H1539.7M1526.7 784.6H1539.7"/>
<path fill="none" stroke="#333" stroke-width="1" d="M1222.7 853.8V847.2H1268.2V853.8M1314.6 790.3V784.3H1359.6V790.3M1398.8 809.7V803.7H1444.3V809.7M1487.8 737.7V731.7H1532.7V737.7"/>
<text class="st" x="1243.7" y="849.4">*</text>
<text class="st" x="1336.5" y="787.5">*</text>
<text class="st" x="1421" y="806">*</text>
<text class="st" x="1510.2" y="735.7">*</text>
<text class="ttl" x="1501.2" y="690.5" textLength="93.5" lengthAdjust="spacingAndGlyphs">miR-23b-3p</text>
<text class="yl" transform="translate(1161.3 859) rotate(-90)" textLength="261" lengthAdjust="spacingAndGlyphs">Относительная экспрессия РНК</text>
<g class="gb" style="font-size:12.5px">
<text transform="translate(1231 1003) rotate(-45)">Контроль</text>
<text transform="translate(1279.6 996) rotate(-45)">OLE</text>
<text transform="translate(1323.2 996) rotate(-45)">5-FU</text>
<text transform="translate(1366.8 996) rotate(-45)">5-FU+OLE</text>
<text transform="translate(1410.4 996) rotate(-45)">Cis</text>
<text transform="translate(1454 996) rotate(-45)">Cis+OLE</text>
<text transform="translate(1497.6 996) rotate(-45)">5-FU+Cis</text>
<text transform="translate(1541.2 996) rotate(-45)">5-FU+Cis+OLE</text>
</g>
</g>

<!-- ================= Chart д ================= -->
<g>
<path d="M91.9 1466.25V1189" stroke="#000" stroke-width="5" stroke-dasharray="1.3 5.6"/>
<line x1="94.4" y1="1188.3" x2="94.4" y2="1466.9" stroke="#000" stroke-width="2.6"/>
<path d="M86 1189.6H94.4M86 1258.6H94.4M86 1327.6H94.4M86 1396.6H94.4M86 1465.6H94.4" stroke="#000" stroke-width="2"/>
<line x1="93.1" y1="1465.6" x2="479.1" y2="1465.6" stroke="#000" stroke-width="2.6"/>
<path d="M124.3 1465.6V1474M170.15 1465.6V1474M216 1465.6V1474M261.85 1465.6V1474M307.7 1465.6V1474M353.55 1465.6V1474M399.4 1465.6V1474M445.25 1465.6V1474" stroke="#000" stroke-width="2.6"/>
<text class="tk" x="83" y="1194.1">4</text>
<text class="tk" x="83" y="1263.1">3</text>
<text class="tk" x="83" y="1332.1">2</text>
<text class="tk" x="83" y="1401.1">1</text>
<text class="tk" x="83" y="1470.1">0</text>
<g fill="#fd2a36" stroke="#000" stroke-width="2.7">
<rect x="111.55" y="1397.1" width="25.5" height="68.5"/>
<rect x="157.4" y="1431.9" width="25.5" height="33.7"/>
<rect x="203.25" y="1421.9" width="25.5" height="43.7"/>
<rect x="249.1" y="1430.2" width="25.5" height="35.4"/>
<rect x="294.95" y="1286.7" width="25.5" height="178.9"/>
<rect x="340.8" y="1386.8" width="25.5" height="78.8"/>
<rect x="386.65" y="1416.7" width="25.5" height="48.9"/>
<rect x="432.5" y="1449.2" width="25.5" height="16.4"/>
</g>
<path fill="none" stroke="#222" stroke-width="1.1" d="M124.3 1384.5V1407.5M117.8 1384.5H130.8M117.8 1407.5H130.8M170.15 1423V1438.5M163.65 1423H176.65M163.65 1438.5H176.65M216 1404.6V1436.2M209.5 1404.6H222.5M209.5 1436.2H222.5M261.85 1410V1446.3M255.35 1410H268.35M255.35 1446.3H268.35M307.7 1256.5V1315.2M301.2 1256.5H314.2M301.2 1315.2H314.2M353.55 1382.5V1390.8M347.05 1382.5H360.05M347.05 1390.8H360.05M399.4 1410.6V1420.4M392.9 1410.6H405.9M392.9 1420.4H405.9M445.25 1446.9V1451.2M438.75 1446.9H451.75M438.75 1451.2H451.75"/>
<path fill="none" stroke="#333" stroke-width="1" d="M125.5 1237V1229.8H296.1V1237M305.2 1237V1229.8H345.6V1237M126.1 1368.7V1362H174.7V1368.7M403.2 1384.2V1378.2H445V1384.2"/>
<text class="st" x="204.8" y="1228">*</text>
<text class="st" x="326.2" y="1228">*</text>
<text class="st" x="152.9" y="1367.4">*</text>
<text class="st" x="425" y="1376">*</text>
<text class="gn" x="438.3" y="1173.3" textLength="38" lengthAdjust="spacingAndGlyphs">ZEB1</text>
<text class="yl" transform="translate(64.6 1306) rotate(-90)" textLength="263" lengthAdjust="spacingAndGlyphs">Относительная экспрессия РНК</text>
<g class="gb" style="font-size:14px">
<text transform="translate(127.3 1493.6) rotate(-45)">Контроль</text>
<text transform="translate(178.15 1486.6) rotate(-45)">OLE</text>
<text transform="translate(224 1486.6) rotate(-45)">5-FU</text>
<text transform="translate(269.85 1486.6) rotate(-45)">5-FU+OLE</text>
<text transform="translate(315.7 1486.6) rotate(-45)">Cis</text>
<text transform="translate(361.55 1486.6) rotate(-45)">Cis+OLE</text>
<text transform="translate(407.4 1486.6) rotate(-45)">5-FU+Cis</text>
<text transform="translate(453.25 1486.6) rotate(-45)">5-FU+Cis+OLE</text>
</g>
</g>

<!-- ================= Chart е ================= -->
<g>
<line x1="643.7" y1="1189.7" x2="643.7" y2="1474.3" stroke="#000" stroke-width="2.6"/>
<path d="M637 1191H643.7M637 1285H643.7M637 1379H643.7M637 1473H643.7" stroke="#000" stroke-width="2.2"/>
<line x1="642.4" y1="1473" x2="1021.8" y2="1473" stroke="#000" stroke-width="2.6"/>
<path d="M673 1473V1481.5M718.27 1473V1481.5M763.54 1473V1481.5M808.81 1473V1481.5M854.08 1473V1481.5M899.35 1473V1481.5M944.62 1473V1481.5M989.89 1473V1481.5" stroke="#000" stroke-width="2.6"/>
<text class="tk" x="633.5" y="1195.5">15</text>
<text class="tk" x="633.5" y="1289.5">10</text>
<text class="tk" x="633.5" y="1383.5">5</text>
<text class="tk" x="633.5" y="1477.5">0</text>
<g fill="#fe6670" stroke="#000" stroke-width="2.7">
<rect x="660.25" y="1451.8" width="25.5" height="21.2"/>
<rect x="705.52" y="1341.1" width="25.5" height="131.9"/>
<rect x="750.79" y="1314.6" width="25.5" height="158.4"/>
<rect x="796.06" y="1272.3" width="25.5" height="200.7"/>
<rect x="841.33" y="1434" width="25.5" height="39"/>
<rect x="886.6" y="1285.3" width="25.5" height="187.7"/>
<rect x="931.87" y="1455.5" width="25.5" height="17.5"/>
<rect x="977.14" y="1230.7" width="25.5" height="242.3"/>
</g>
<path fill="none" stroke="#000" stroke-width="2" d="M673 1439.7V1462.7M666.5 1439.7H679.5M666.5 1462.7H679.5M718.27 1332.4V1349.1M711.77 1332.4H724.77M711.77 1349.1H724.77M763.54 1288.2V1339.6M757.04 1288.2H770.04M757.04 1339.6H770.04M808.81 1229.8V1313.8M802.31 1229.8H815.31M802.31 1313.8H815.31M854.08 1412.4V1452.6M847.58 1412.4H860.58M847.58 1452.6H860.58M899.35 1271.8V1297.7M892.85 1271.8H905.85M892.85 1297.7H905.85M944.62 1452.6V1457M938.12 1452.6H951.12M989.89 1216.9V1241.3M983.39 1216.9H996.39M983.39 1241.3H996.39"/>
<path fill="none" stroke="#333" stroke-width="1" d="M671.2 1321.8V1314H713V1321.8M671.2 1274.4V1264.3H758.8V1274.4M847.8 1264.3V1254.2H899.7V1264.3M935.5 1207.4V1196.7H986.7V1207.4"/>
<text class="st" x="691.9" y="1315.7">*</text>
<text class="st" x="714.7" y="1265.4">*</text>
<text class="st" x="873.6" y="1253.9">*</text>
<text class="st" x="961.3" y="1199.2">*</text>
<text class="ttl" x="958.9" y="1172" textLength="74.3" lengthAdjust="spacingAndGlyphs">miR-200c</text>
<text class="yl" transform="translate(606.9 1334.8) rotate(-90)" textLength="261" lengthAdjust="spacingAndGlyphs">Относительная экспрессия РНК</text>
<g class="gb" style="font-size:13px">
<text transform="translate(676 1501) rotate(-45)">Контроль</text>
<text transform="translate(726.27 1494) rotate(-45)">OLE</text>
<text transform="translate(771.54 1494) rotate(-45)">5-FU</text>
<text transform="translate(816.81 1494) rotate(-45)">5-FU+OLE</text>
<text transform="translate(862.08 1494) rotate(-45)">Cis</text>
<text transform="translate(907.35 1494) rotate(-45)">Cis+OLE</text>
<text transform="translate(952.62 1494) rotate(-45)">5-FU+Cis</text>
<text transform="translate(997.89 1494) rotate(-45)">5-FU+Cis+OLE</text>
</g>
</g>

<!-- ================= Chart ж ================= -->
<g>
<path d="M1139 1471.35V1189" stroke="#000" stroke-width="5" stroke-dasharray="1.3 5.74"/>
<line x1="1141.5" y1="1187.8" x2="1141.5" y2="1472" stroke="#000" stroke-width="2.6"/>
<path d="M1133 1189.1H1141.5M1133 1259.5H1141.5M1133 1329.9H1141.5M1133 1400.3H1141.5M1133 1470.7H1141.5" stroke="#000" stroke-width="2"/>
<line x1="1140.2" y1="1470.7" x2="1526.3" y2="1470.7" stroke="#000" stroke-width="2.6"/>
<path d="M1171 1470.7V1479M1216.9 1470.7V1479M1262.8 1470.7V1479M1308.7 1470.7V1479M1354.6 1470.7V1479M1400.5 1470.7V1479M1446.4 1470.7V1479M1492.3 1470.7V1479" stroke="#000" stroke-width="2.6"/>
<text class="tk" x="1131" y="1193.6">4</text>
<text class="tk" x="1131" y="1264">3</text>
<text class="tk" x="1131" y="1334.4">2</text>
<text class="tk" x="1131" y="1404.8">1</text>
<text class="tk" x="1131" y="1475.2">0</text>
<g fill="#fd2a36" stroke="#000" stroke-width="2.7">
<rect x="1158.25" y="1399.4" width="25.5" height="71.3"/>
<rect x="1204.15" y="1420.1" width="25.5" height="50.6"/>
<rect x="1250.05" y="1430.5" width="25.5" height="40.2"/>
<rect x="1295.95" y="1454.1" width="25.5" height="16.6"/>
<rect x="1341.85" y="1301.1" width="25.5" height="169.6"/>
<rect x="1387.75" y="1423.9" width="25.5" height="46.8"/>
<rect x="1433.65" y="1447.7" width="25.5" height="23"/>
<rect x="1479.55" y="1457.8" width="25.5" height="12.9"/>
</g>
<path fill="none" stroke="#222" stroke-width="1.1" d="M1171 1377.3V1419M1164.5 1377.3H1177.5M1164.5 1419H1177.5M1216.9 1403.2V1434.8M1210.4 1403.2H1223.4M1210.4 1434.8H1223.4M1262.8 1414.1V1444.6M1256.3 1414.1H1269.3M1256.3 1444.6H1269.3M1308.7 1451.2V1454.9M1302.2 1451.2H1315.2M1354.6 1253.7V1346.8M1348.1 1253.7H1361.1M1348.1 1346.8H1361.1M1400.5 1423V1424.5M1394 1423H1407M1446.4 1437.7V1457.5M1439.9 1437.7H1452.9M1439.9 1457.5H1452.9M1492.3 1456.5V1458M1485.8 1456.5H1498.8"/>
<path fill="none" stroke="#333" stroke-width="1" d="M1175.2 1237.8V1232.7H1348.2V1237.8"/>
<text class="st" x="1250.5" y="1233.7">*</text>
<text class="gn" x="1474.1" y="1173.3" textLength="46.6" lengthAdjust="spacingAndGlyphs">SNAI1</text>
<text class="yl" transform="translate(1107.5 1328) rotate(-90)" textLength="260" lengthAdjust="spacingAndGlyphs">Относительная экспрессия РНК</text>
<g class="gb" style="font-size:14px">
<text transform="translate(1174 1498.7) rotate(-45)">Контроль</text>
<text transform="translate(1224.9 1491.7) rotate(-45)">OLE</text>
<text transform="translate(1270.8 1491.7) rotate(-45)">5-FU</text>
<text transform="translate(1316.7 1491.7) rotate(-45)">5-FU+OLE</text>
<text transform="translate(1362.6 1491.7) rotate(-45)">Cis</text>
<text transform="translate(1408.5 1491.7) rotate(-45)">Cis+OLE</text>
<text transform="translate(1454.4 1491.7) rotate(-45)">5-FU+Cis</text>
<text transform="translate(1500.3 1491.7) rotate(-45)">5-FU+Cis+OLE</text>
</g>
</g>

</svg>
</body></html>
